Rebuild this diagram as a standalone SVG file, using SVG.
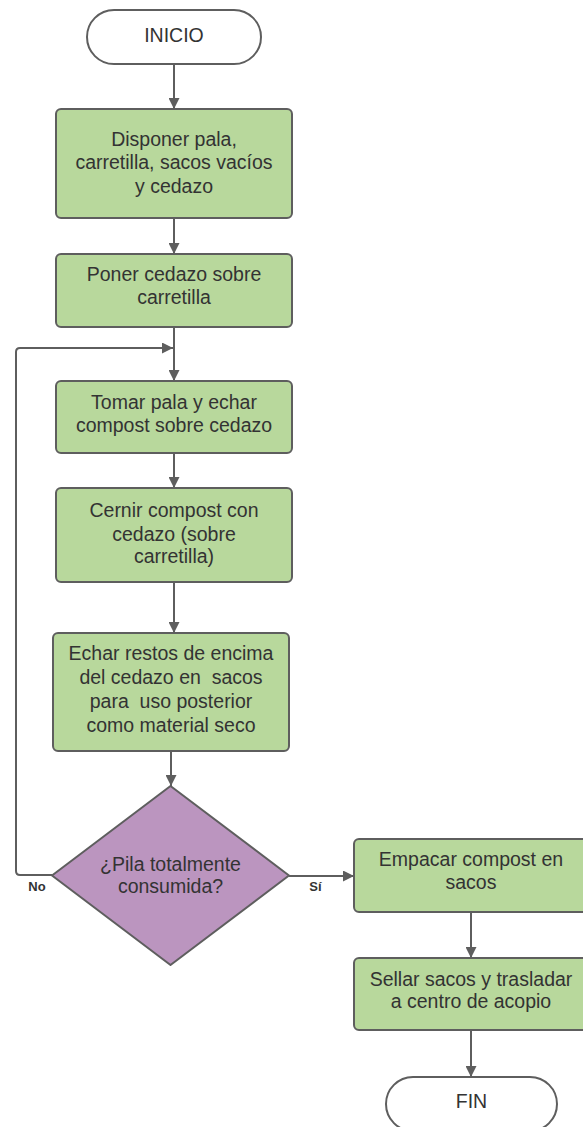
<svg xmlns="http://www.w3.org/2000/svg" width="583" height="1127" viewBox="0 0 583 1127">
  <style>
    .term { fill: #ffffff; stroke: #5e5e5e; stroke-width: 2; }
    .proc { fill: #b8d89c; stroke: #5e5e5e; stroke-width: 2; }
    .dec { fill: #bb95bf; stroke: #5e5e5e; stroke-width: 2; stroke-linejoin: round; }
    .lbl { font-family: "Liberation Sans", Arial, sans-serif; font-size: 19.5px; fill: #333333; text-anchor: middle; }
    .edge { fill: none; stroke: #5e5e5e; stroke-width: 2; marker-end: url(#arrow); }
    .elbl { font-family: "Liberation Sans", Arial, sans-serif; font-size: 13px; font-weight: bold; fill: #333333; text-anchor: middle; }
  </style>
  <defs>
    <marker id="arrow" markerUnits="userSpaceOnUse" markerWidth="11" markerHeight="11" refX="11" refY="5.5" orient="auto">
      <path d="M0,0 L11,5.5 L0,11 z" fill="#5e5e5e"/>
    </marker>
  </defs>
  <rect width="583" height="1127" fill="#ffffff"/>

  <g id="connectors">
    <path class="edge" d="M174,64 V109"/>
    <path class="edge" d="M174,218 V254"/>
    <path class="edge" d="M174,327 V381"/>
    <path class="edge" d="M174,453 V488"/>
    <path class="edge" d="M174,582 V633"/>
    <path class="edge" d="M171,751 V786"/>
    <path class="edge" d="M52,875 H20 Q16,875 16,871 V352 Q16,348 20,348 H173"/>
    <path class="edge" d="M289,876 H354"/>
    <path class="edge" d="M471,912 V958"/>
    <path class="edge" d="M471,1030 V1077"/>
    <text class="elbl" x="37" y="891">No</text>
    <text class="elbl" x="315.5" y="891">Sí</text>
  </g>

  <g id="inicio">
    <rect class="term" x="87" y="10" width="174" height="54" rx="27"/>
    <text class="lbl" x="174" y="42.3">INICIO</text>
  </g>

  <g id="disponer">
    <rect class="proc" x="56" y="109" width="236" height="109" rx="5"/>
    <text class="lbl" x="174" y="145.7">Disponer pala,</text>
    <text class="lbl" x="174" y="169.3">carretilla, sacos vacíos</text>
    <text class="lbl" x="174" y="192.7">y cedazo</text>
  </g>

  <g id="poner">
    <rect class="proc" x="56" y="254" width="236" height="73" rx="5"/>
    <text class="lbl" x="174" y="280.7">Poner cedazo sobre</text>
    <text class="lbl" x="174" y="304">carretilla</text>
  </g>

  <g id="tomar">
    <rect class="proc" x="56" y="381" width="236" height="72" rx="5"/>
    <text class="lbl" x="174" y="409">Tomar pala y echar</text>
    <text class="lbl" x="174" y="431.7">compost sobre cedazo</text>
  </g>

  <g id="cernir">
    <rect class="proc" x="56" y="488" width="236" height="94" rx="5"/>
    <text class="lbl" x="174" y="516.7">Cernir compost con</text>
    <text class="lbl" x="174" y="540.7">cedazo (sobre</text>
    <text class="lbl" x="174" y="563">carretilla)</text>
  </g>

  <g id="echar">
    <rect class="proc" x="53" y="633" width="236" height="118" rx="5"/>
    <text class="lbl" x="171" y="660">Echar restos de encima</text>
    <text class="lbl" x="171" y="684.3" xml:space="preserve">del cedazo en  sacos</text>
    <text class="lbl" x="171" y="707.7" xml:space="preserve">para  uso posterior</text>
    <text class="lbl" x="171" y="731.7">como material seco</text>
  </g>

  <g id="decision">
    <path class="dec" d="M170.5,786 L289,875.5 L170.5,965 L52,875.5 Z"/>
    <text class="lbl" x="170.5" y="870.7">¿Pila totalmente</text>
    <text class="lbl" x="170.5" y="893.3">consumida?</text>
  </g>

  <g id="empacar">
    <rect class="proc" x="354" y="839" width="236" height="73" rx="5"/>
    <text class="lbl" x="471" y="866">Empacar compost en</text>
    <text class="lbl" x="471" y="889.3">sacos</text>
  </g>

  <g id="sellar">
    <rect class="proc" x="354" y="958" width="236" height="72" rx="5"/>
    <text class="lbl" x="471" y="985.7">Sellar sacos y trasladar</text>
    <text class="lbl" x="471" y="1008.3">a centro de acopio</text>
  </g>

  <g id="fin">
    <rect class="term" x="386" y="1077" width="171" height="54" rx="27"/>
    <text class="lbl" x="471.5" y="1108.3">FIN</text>
  </g>
</svg>
